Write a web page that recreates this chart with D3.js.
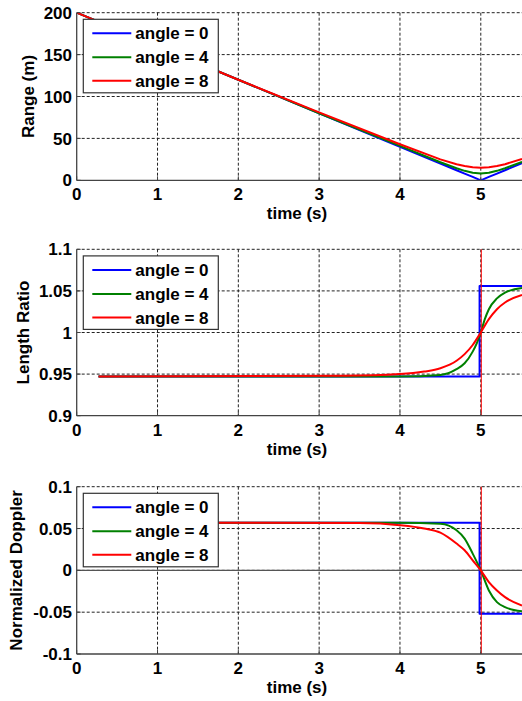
<!DOCTYPE html>
<html>
<head>
<meta charset="utf-8">
<script src="https://cdn.jsdelivr.net/npm/d3@7"></script>
<style>
    body { margin: 0; background: #fff; }
    svg { display: block; font-family: "Liberation Sans", Arial, sans-serif; font-weight: bold; }
</style>
</head>
<body>
<div id="chart"></div>
<script>
const w = 522;
const h = 701;

// legend / series
const angleLabels = ["angle = 0", "angle = 4", "angle = 8"];
const colors = ["#0000ff", "#008000", "#ff0000"];

// x axis ticks (s)
const timeTicks = [0, 1, 2, 3, 4, 5];

// ---- Range (m) ----
const rangeTime = [0, 1, 2, 3, 4, 4.5, 4.7, 4.8, 4.9, 5, 5.1, 5.2, 5.3, 5.51];
const rangeA0 = [200, 160, 120, 80, 40, 20, 12, 8, 4, 0, 4, 8, 12, 20.4];
const rangeA4 = [200, 160, 120, 80, 41, 21.5, 14.4, 11.3, 8.9, 8, 8.9, 11.3, 14.4, 22];
const rangeA8 = [200, 160, 120, 81, 43, 25, 19.2, 17, 15.5, 15, 15.5, 17, 19.2, 25.5];
const rangeTicks = [0, 50, 100, 150, 200];
const rangeTickLabels = ["0", "50", "100", "150", "200"];

// ---- Length Ratio ----
const ratioTimeA0 = [0.27, 4.985, 4.985, 5.51];
const ratioA0 = [0.947, 0.947, 1.056, 1.056];
const ratioTimeA4 = [0.27, 4.0, 4.5, 4.7, 4.8, 4.9, 4.95, 5.0, 5.05, 5.1, 5.2, 5.3, 5.51];
const ratioA4 = [0.947, 0.947, 0.949, 0.956, 0.963, 0.977, 0.987, 1.0, 1.016, 1.028, 1.041, 1.048, 1.0535];
const ratioTimeA8 = [0.27, 3.3, 4.0, 4.3, 4.5, 4.7, 4.8, 4.9, 5.0, 5.1, 5.2, 5.3, 5.51];
const ratioA8 = [0.947, 0.948, 0.950, 0.953, 0.957, 0.966, 0.974, 0.985, 1.0, 1.016, 1.028, 1.036, 1.045];
const ratioTicks = [0.9, 0.95, 1, 1.05, 1.1];
const ratioTickLabels = ["0.9", "0.95", "1", "1.05", "1.1"];

// ---- Normalized Doppler ----
const dopTimeA0 = [0.27, 4.985, 4.985, 5.51];
const dopA0 = [0.057, 0.057, -0.052, -0.052];
const dopTimeA4 = [0.27, 4.0, 4.5, 4.7, 4.8, 4.9, 5.0, 5.1, 5.2, 5.3, 5.51];
const dopA4 = [0.057, 0.057, 0.0556, 0.048, 0.038, 0.020, 0, -0.024, -0.038, -0.044, -0.049];
const dopTimeA8 = [0.27, 3.5, 4.0, 4.3, 4.5, 4.7, 4.8, 4.9, 5.0, 5.1, 5.2, 5.3, 5.51];
const dopA8 = [0.057, 0.0565, 0.054, 0.050, 0.045, 0.032, 0.024, 0.012, 0, -0.014, -0.024, -0.032, -0.042];
const dopTicks = [-0.1, -0.05, 0, 0.05, 0.1];
const dopTickLabels = ["-0.1", "-0.05", "0", "0.05", "0.1"];

const zip = (ts, vs) => ts.map((t, i) => ({t: t, v: vs[i]}));

const panels = [
    {
        top: 12.7, bottom: 180.3, domain: [0, 200],
        ticks: rangeTicks, tickLabels: rangeTickLabels,
        ylabel: "Range (m)", ylabelX: 33.5,
        series: [zip(rangeTime, rangeA0), zip(rangeTime, rangeA4), zip(rangeTime, rangeA8)],
        smooth: false, marker5: false, zero: false
    },
    {
        top: 249.3, bottom: 415.7, domain: [0.9, 1.1],
        ticks: ratioTicks, tickLabels: ratioTickLabels,
        ylabel: "Length Ratio", ylabelX: 28.5,
        series: [zip(ratioTimeA0, ratioA0), zip(ratioTimeA4, ratioA4), zip(ratioTimeA8, ratioA8)],
        smooth: true, marker5: true, zero: false
    },
    {
        top: 486.7, bottom: 654, domain: [-0.1, 0.1],
        ticks: dopTicks, tickLabels: dopTickLabels,
        ylabel: "Normalized Doppler", ylabelX: 22,
        series: [zip(dopTimeA0, dopA0), zip(dopTimeA4, dopA4), zip(dopTimeA8, dopA8)],
        smooth: true, marker5: true, zero: true
    }
];

const x0 = 76.7;
const xMax = 5.51;
const x = d3.scaleLinear().domain([0, xMax]).range([x0, 522]);

const svg = d3.select("#chart")
    .append("svg")
    .attr("width", w)
    .attr("height", h);

panels.forEach(function(p, pi) {

    const y = d3.scaleLinear().domain(p.domain).range([p.bottom, p.top]);
    const g = svg.append("g");

    // clip to the axes area
    const clipId = "clip" + pi;
    svg.append("clipPath").attr("id", clipId)
        .append("rect")
        .attr("x", x0).attr("y", p.top)
        .attr("width", w - x0).attr("height", p.bottom - p.top);

    // dashed grid
    g.selectAll(".vgrid")
        .data(timeTicks.filter(d => d > 0))
        .enter().append("line")
        .attr("x1", d => x(d)).attr("x2", d => x(d))
        .attr("y1", p.top).attr("y2", p.bottom)
        .attr("stroke", "#222").attr("stroke-width", 1)
        .attr("stroke-dasharray", "3,2");

    g.selectAll(".hgrid")
        .data(p.ticks.slice(1))
        .enter().append("line")
        .attr("x1", x0).attr("x2", w)
        .attr("y1", d => y(d)).attr("y2", d => y(d))
        .attr("stroke", "#222").attr("stroke-width", 1)
        .attr("stroke-dasharray", "3,2");

    if (p.zero) {
        g.append("line")
            .attr("x1", x0).attr("x2", w)
            .attr("y1", y(0)).attr("y2", y(0))
            .attr("stroke", "#555").attr("stroke-width", 1.3);
    }

    // curves
    const lines = g.append("g").attr("clip-path", "url(#" + clipId + ")");
    p.series.forEach(function(s, si) {
        const line = d3.line()
            .x(d => x(d.t))
            .y(d => y(d.v))
            .curve(p.smooth && si > 0 ? d3.curveMonotoneX : d3.curveLinear);
        lines.append("path")
            .datum(s)
            .attr("d", line)
            .attr("fill", "none")
            .attr("stroke", colors[si])
            .attr("stroke-width", 2)
            .attr("stroke-linejoin", "round");
    });

    if (p.marker5) {
        g.append("line")
            .attr("x1", x(5) + 0.5).attr("x2", x(5) + 0.5)
            .attr("y1", p.top).attr("y2", p.bottom)
            .attr("stroke", "#ff0000").attr("stroke-width", 1);
    }

    // axes lines (left + bottom) and small inward ticks
    g.append("line")
        .attr("x1", x0).attr("x2", x0)
        .attr("y1", p.top).attr("y2", p.bottom)
        .attr("stroke", "#444").attr("stroke-width", 1.3);
    g.append("line")
        .attr("x1", x0).attr("x2", w)
        .attr("y1", p.bottom).attr("y2", p.bottom)
        .attr("stroke", "#444").attr("stroke-width", 1.3);

    g.selectAll(".ytick")
        .data(p.ticks)
        .enter().append("line")
        .attr("x1", x0).attr("x2", x0 + 4)
        .attr("y1", d => y(d)).attr("y2", d => y(d))
        .attr("stroke", "#444");
    g.selectAll(".xtick")
        .data(timeTicks)
        .enter().append("line")
        .attr("x1", d => x(d)).attr("x2", d => x(d))
        .attr("y1", p.bottom).attr("y2", p.bottom - 4)
        .attr("stroke", "#444");

    // tick labels
    g.selectAll(".ylab")
        .data(p.ticks)
        .enter().append("text")
        .attr("x", 72)
        .attr("y", (d) => y(d))
        .attr("dy", "0.36em")
        .attr("text-anchor", "end")
        .attr("font-size", 17)
        .text((d, i) => p.tickLabels[i]);

    g.selectAll(".xlab")
        .data(timeTicks)
        .enter().append("text")
        .attr("x", d => x(d))
        .attr("y", p.bottom + 20)
        .attr("text-anchor", "middle")
        .attr("font-size", 17)
        .text(d => d);

    g.append("text")
        .attr("x", 297)
        .attr("y", p.bottom + 39)
        .attr("text-anchor", "middle")
        .attr("font-size", 17)
        .text("time (s)");

    g.append("text")
        .attr("transform", "translate(" + p.ylabelX + "," + ((p.top + p.bottom) / 2) + ") rotate(-90)")
        .attr("text-anchor", "middle")
        .attr("font-size", 17)
        .text(p.ylabel);

    // legend box
    const lg = g.append("g")
        .attr("transform", "translate(83.3," + (p.top + 6.6) + ")");
    lg.append("rect")
        .attr("width", 135).attr("height", 73.5)
        .attr("fill", "#fff")
        .attr("stroke", "#333").attr("stroke-width", 1.2);

    const rowY = [14, 38, 61.5];
    angleLabels.forEach(function(lbl, i) {
        lg.append("line")
            .attr("x1", 9).attr("x2", 48)
            .attr("y1", rowY[i]).attr("y2", rowY[i])
            .attr("stroke", colors[i]).attr("stroke-width", 2);
        lg.append("text")
            .attr("x", 52)
            .attr("y", rowY[i])
            .attr("dy", "0.36em")
            .attr("font-size", 17)
            .text(lbl);
    });
});
</script>
</body>
</html>
